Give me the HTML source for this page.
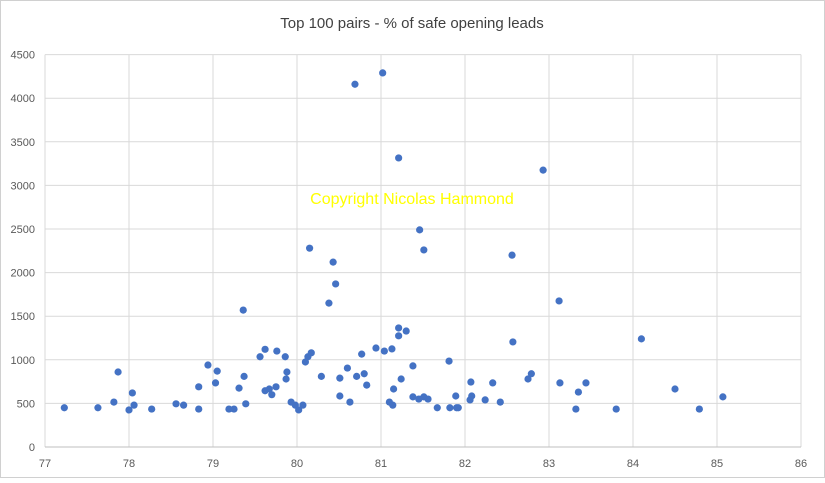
<!DOCTYPE html>
<html><head><meta charset="utf-8"><style>
body{margin:0;background:#fff;font-family:"Liberation Sans",sans-serif}
svg text{font-family:"Liberation Sans",sans-serif}
</style></head><body>
<svg width="825" height="478">
<rect x="0.5" y="0.5" width="824" height="477" fill="#fff" stroke="#d0d0d0"/>
<text x="412" y="28" text-anchor="middle" font-size="15" fill="#404040">Top 100 pairs - % of safe opening  leads</text>
<g id="grid"></g><g id="axes"></g><g id="pts"></g>
<text x="412" y="204" text-anchor="middle" font-size="16" fill="#ffff00">Copyright Nicolas Hammond</text>
</svg>
<script>
const xTicks=[77,78,79,80,81,82,83,84,85,86];
const yTicks=[0,500,1000,1500,2000,2500,3000,3500,4000,4500];
const xs=[77.23,77.63,77.82,77.87,78.04,78.0,78.06,78.27,78.56,78.65,78.83,78.83,78.94,79.05,79.03,79.19,79.25,79.31,79.36,79.37,79.39,79.56,79.62,79.62,79.67,79.70,79.75,79.76,79.86,79.87,79.88,79.93,79.98,80.02,80.07,80.10,80.13,80.17,80.38,80.29,80.51,80.51,80.60,80.63,80.71,80.77,80.80,80.83,80.94,81.04,81.13,81.10,81.14,81.15,81.21,81.21,81.30,81.24,81.38,81.38,81.45,81.51,81.56,81.67,81.81,81.82,81.89,81.90,81.92,82.07,82.06,82.08,82.24,82.33,82.42,82.57,82.75,82.79,83.12,83.13,83.32,83.35,83.44,83.80,84.10,84.50,84.79,85.07,80.69,81.02,81.21,82.93,81.46,81.51,80.15,80.43,80.46,82.56];
const ys=[450,450,515,860,620,425,480,435,495,480,435,690,940,870,735,435,435,675,1570,810,495,1035,1120,645,665,600,690,1100,1035,780,860,515,480,425,480,975,1035,1080,1650,810,790,585,905,515,810,1065,840,710,1135,1100,1125,515,480,665,1365,1275,1330,780,930,575,550,575,550,450,985,450,585,450,450,745,540,585,540,735,515,1205,780,840,1675,735,435,630,735,435,1240,665,435,575,4160,4290,3315,3175,2490,2260,2280,2120,1870,2200];
const X=v=>45+(v-77)*84, Y=v=>447-v*0.0872;
const NS="http://www.w3.org/2000/svg";
const g=document.getElementById('grid'),a=document.getElementById('axes'),p=document.getElementById('pts');
function mk(t,at,par){const e=document.createElementNS(NS,t);for(const k in at)e.setAttribute(k,at[k]);par.appendChild(e);return e;}
yTicks.forEach(v=>{
 const l=mk('line',{x1:45,x2:801,y1:Y(v),y2:Y(v),stroke:'#d9d9d9','stroke-width':1},g);
 
 
 const t=mk('text',{x:35,y:Y(v)+4,'text-anchor':'end','font-size':11,fill:'#595959'},a);t.textContent=v;
 
 
});
xTicks.forEach(v=>{
 const l=mk('line',{x1:X(v),x2:X(v),y1:Y(4500),y2:Y(0),stroke:'#d9d9d9','stroke-width':1},g);
 
 
 const t=mk('text',{x:X(v),y:467,'text-anchor':'middle','font-size':11,fill:'#595959'},a);t.textContent=v;
 
 
});
const ax=mk('line',{x1:45,x2:801,y1:Y(0),y2:Y(0),stroke:'#bfbfbf'},a);


xs.forEach((v,i)=>{
 const c=mk('circle',{cx:X(v),cy:Y(ys[i]),r:3.6,fill:'#4472c4'},p);
 
 
});
</script>
</body></html>
